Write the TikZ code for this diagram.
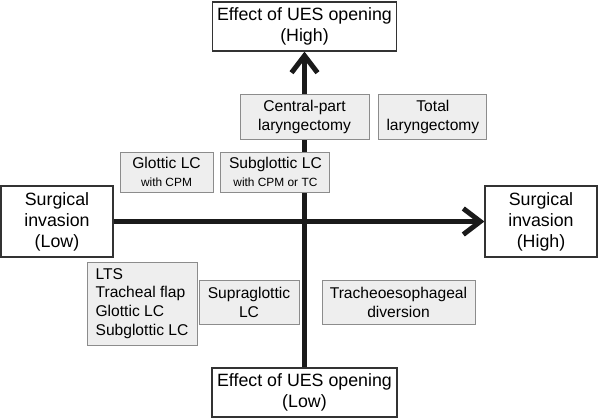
\documentclass[tikz,border=0pt]{standalone}
\usepackage{fontspec}
\setmainfont{Liberation Sans}
\usepackage{tikz}
\usetikzlibrary{positioning}
\usetikzlibrary{arrows.meta}
\usetikzlibrary{backgrounds}
\definecolor{boxfill}{HTML}{EEEEEE}
\definecolor{boxline}{HTML}{8C8C8C}
\definecolor{axisline}{HTML}{1A1A1A}
\newcommand{\notesize}{\fontsize{11.9}{14}\selectfont}
\tikzset{
    x=1pt, y=-1pt,
    outerbox/.style={ % the four ends of the axes
        draw=black!80,
        fill=white,
        line width=1.2pt,
        inner sep=0pt,
        align=center,
        font=\fontsize{17.8}{21}\selectfont
    },
    innerbox/.style={ % the operations in the quadrants
        draw=boxline,
        fill=boxfill,
        line width=0.9pt,
        inner sep=0pt,
        align=center,
        font=\fontsize{15.6}{19}\selectfont
    },
    axis/.style={ % thick black axes
        draw=axisline,
        line width=5pt
    }
}

\begin{document}
\begin{tikzpicture}
            \useasboundingbox (0,0) rectangle (598,418);

            \node[outerbox, minimum width=184pt, minimum height=49pt] (uesHigh) at (304.5,26.5) {Effect of UES opening\\(High)};
            \node[outerbox, minimum width=185pt, minimum height=49pt] (uesLow) at (304.5,392.5) {Effect of UES opening\\(Low)};
            \node[outerbox, minimum width=112pt, minimum height=71pt] (invLow) at (57,221.5) {Surgical\\invasion\\(Low)};
            \node[outerbox, minimum width=112pt, minimum height=71pt] (invHigh) at (541,221.5) {Surgical\\invasion\\(High)};

            \node[innerbox, minimum width=129pt, minimum height=45pt] (cpl) at (304.5,116.5) {Central-part\\laryngectomy};
            \node[innerbox, minimum width=108pt, minimum height=45pt, right=9pt of cpl] (tl) {Total\\laryngectomy};
            \node[innerbox, minimum width=93pt, minimum height=40pt] (glc) at (166.5,172) {Glottic LC\\[-1pt]{\notesize with CPM}};
            \node[innerbox, minimum width=109pt, minimum height=40pt, right=7pt of glc] (sglc) {Subglottic LC\\[-1pt]{\notesize with CPM or TC}};
            \node[innerbox, minimum width=110pt, minimum height=83pt, align=left, font=\fontsize{15.6}{18.7}\selectfont] (lts) at (142,303.5) {LTS\\Tracheal flap\\Glottic LC\\Subglottic LC};
            \node[innerbox, minimum width=100pt, minimum height=44pt] (supra) at (249,302) {Supraglottic\\LC};
            \node[innerbox, minimum width=153pt, minimum height=44pt] (ted) at (398.5,302) {Tracheoesophageal\\diversion};

            \begin{scope}[on background layer]
                \draw[axis, -{Straight Barb[length=17pt, width=26pt]}] (uesLow) -- (uesHigh);
                \draw[axis, -{Straight Barb[length=17pt, width=26pt]}] (invLow) -- (invHigh);
            \end{scope}
        \end{tikzpicture}
\end{document}
